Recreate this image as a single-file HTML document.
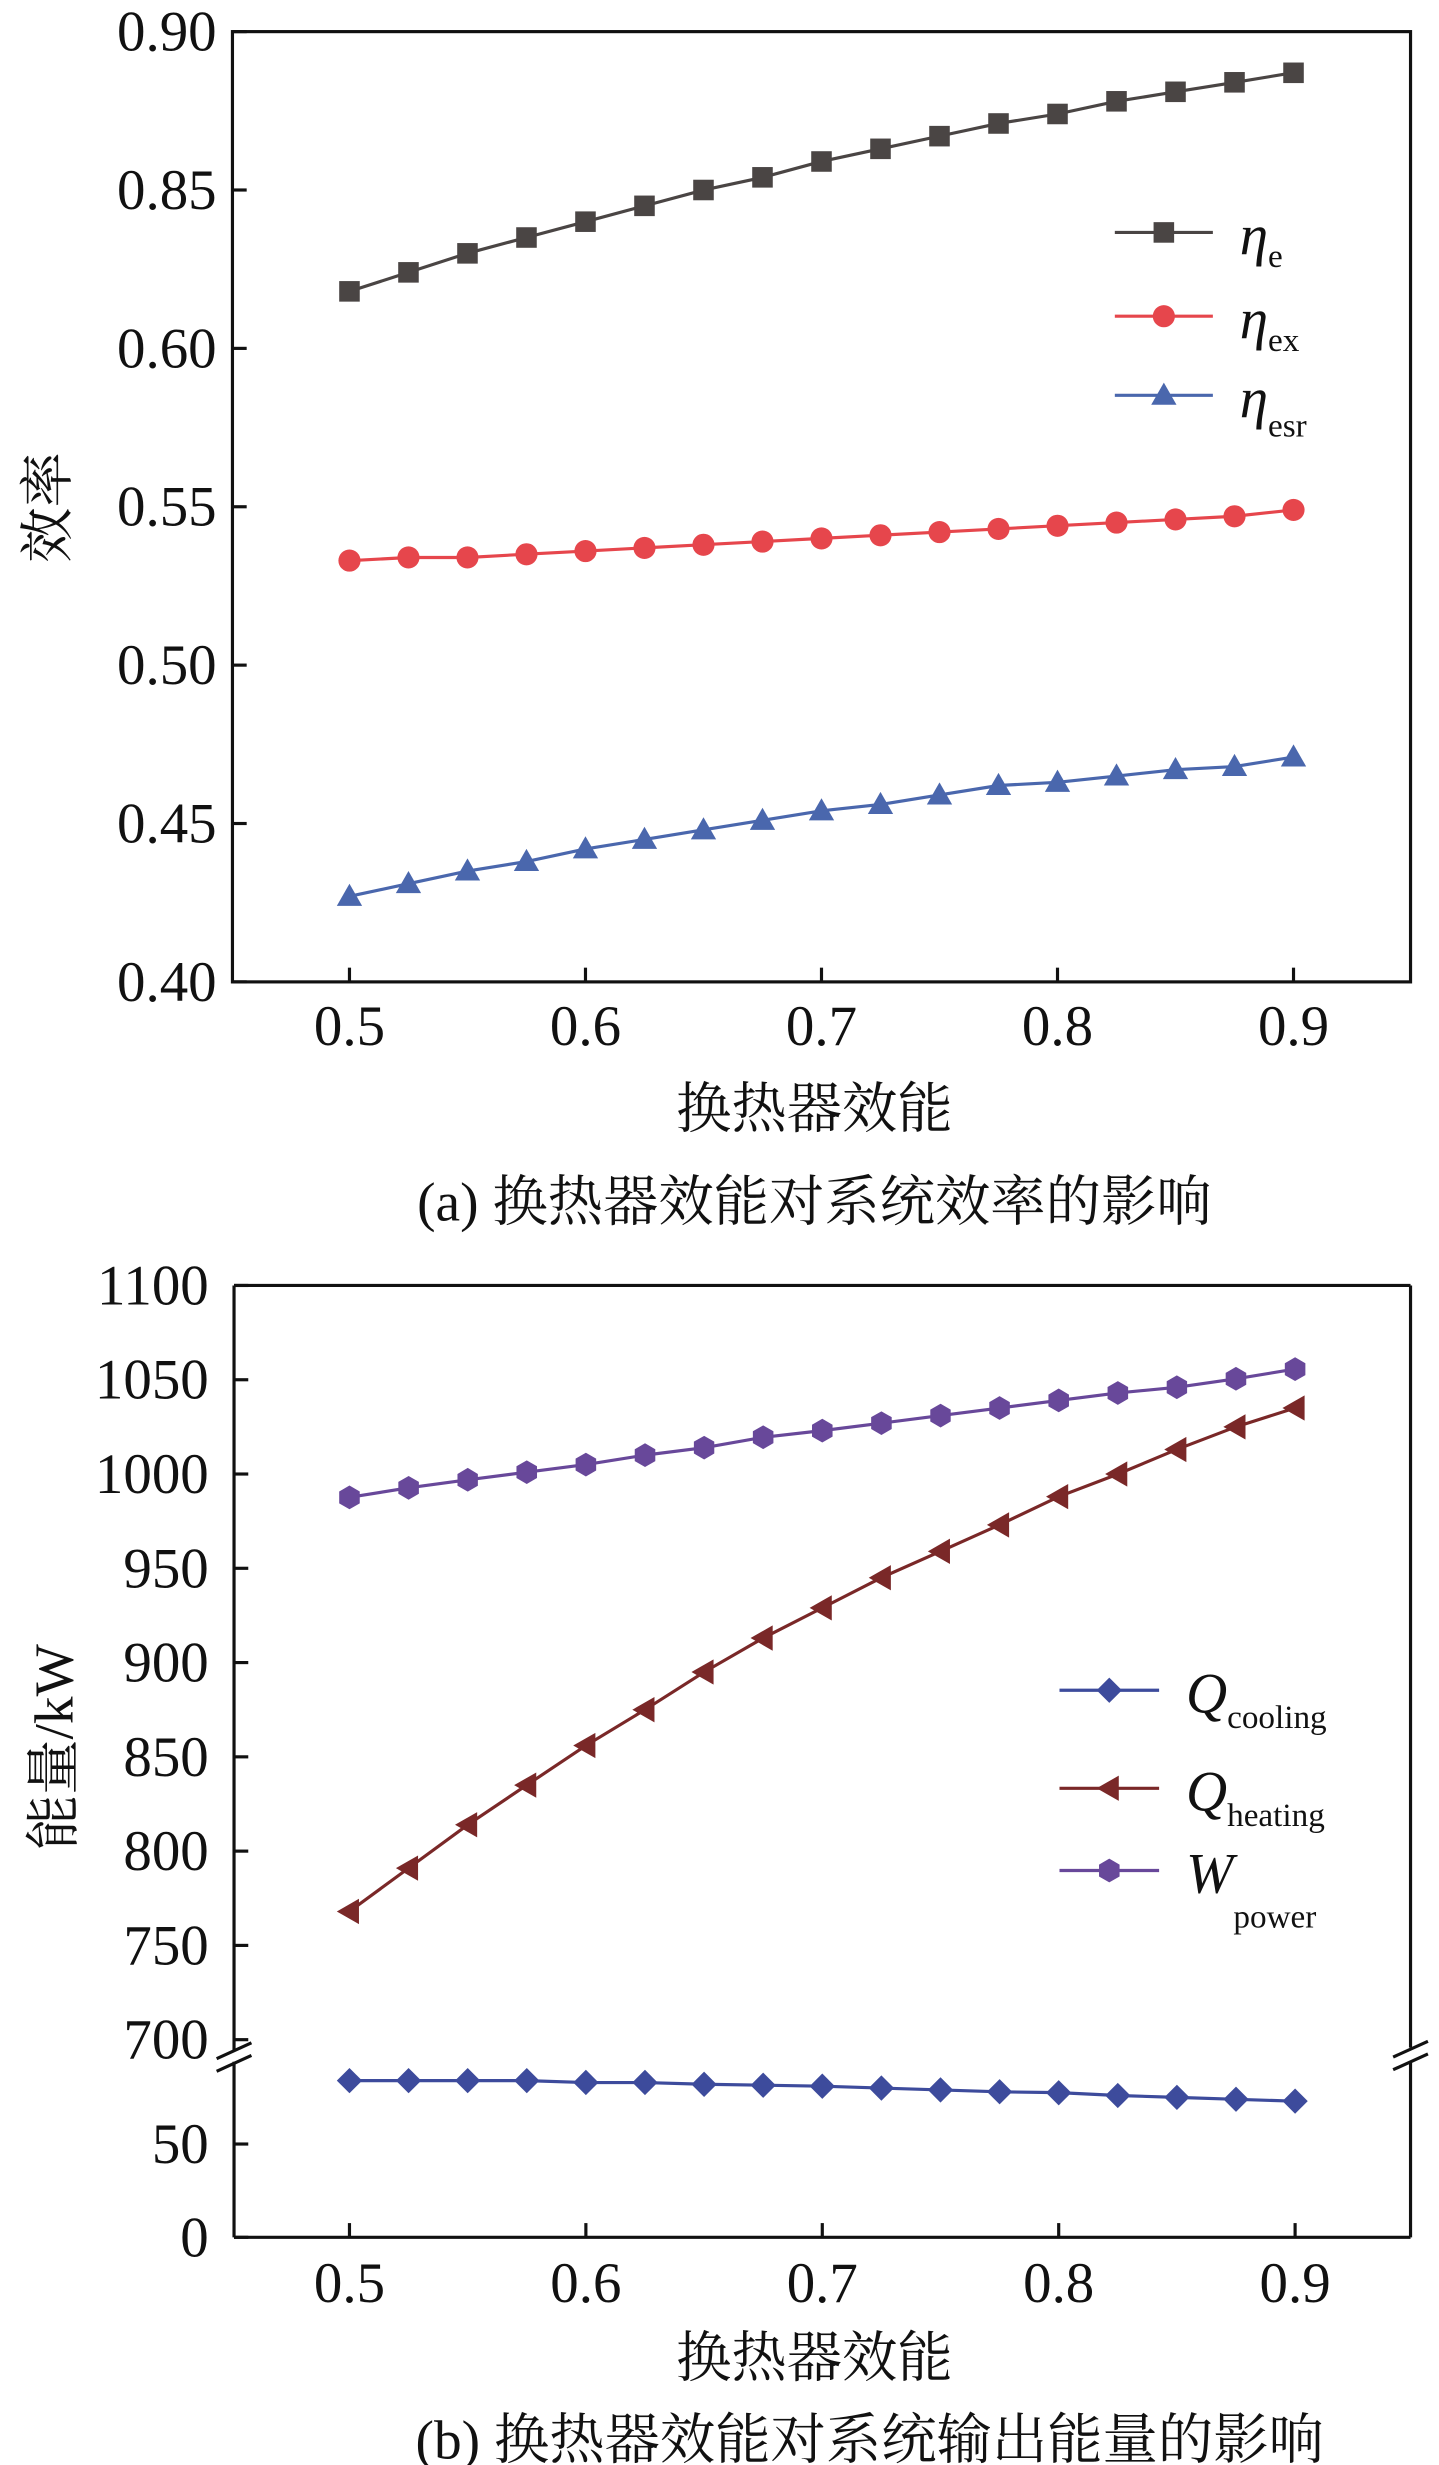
<!DOCTYPE html>
<html><head><meta charset="utf-8"><style>
html,body{margin:0;padding:0;background:#fff;}
svg{display:block;}
text{font-family:"Liberation Serif","Noto Serif CJK SC",serif;fill:#111;}
</style></head><body>
<svg id="fig" width="1439" height="2465" viewBox="0 0 910 1559" preserveAspectRatio="none" xmlns="http://www.w3.org/2000/svg"></svg>
<script>
// ---------- Panel (a) data ----------
const xCats = [0.5,0.525,0.55,0.575,0.6,0.625,0.65,0.675,0.7,0.725,0.75,0.775,0.8,0.825,0.85,0.875,0.9];
const xTicks = [0.5,0.6,0.7,0.8,0.9];
const xTickLabels = ['0.5','0.6','0.7','0.8','0.9'];
const aTicks = [0.40,0.45,0.50,0.55,0.60,0.65,0.70];
const aTickLabels = ['0.40','0.45','0.50','0.55','0.60','0.85','0.90'];
const etaE = [0.618,0.624,0.630,0.635,0.640,0.645,0.650,0.654,0.659,0.663,0.667,0.671,0.674,0.678,0.681,0.684,0.687];
const etaEx = [0.533,0.534,0.534,0.535,0.536,0.537,0.538,0.539,0.540,0.541,0.542,0.543,0.544,0.545,0.546,0.547,0.549];
const etaEsr = [0.427,0.431,0.435,0.438,0.442,0.445,0.448,0.451,0.454,0.456,0.459,0.462,0.463,0.465,0.467,0.468,0.471];
// ---------- Panel (b) data ----------
const bUpperTicks = [700,750,800,850,900,950,1000,1050,1100];
const bLowerTicks = [0,50];
const qCooling = [84,84,84,84,83,83,82,81.5,81,80,79,78,77.5,76,75,74,73];
const qHeating = [768,791,814,835,856,875,895,913,929,945,959,973,988,1000,1013,1025,1035];
const wPower = [987.6,992.7,996.9,1001,1005,1010,1014,1019.5,1023,1027,1031,1035,1039,1043,1046,1050.5,1055.6];

const NS='http://www.w3.org/2000/svg';
const svg=document.getElementById('fig');
function mk(tag,attrs,parent){const e=document.createElementNS(NS,tag);for(const k in attrs)e.setAttribute(k,attrs[k]);(parent||svg).appendChild(e);return e;}

function xScale(L,R){return v=>L+(v-0.5)/(0.4)*(R-L);}

function marker(g,type,x,y,c){
  let e;
  if(type==='square') e=mk('rect',{x:x-6.5,y:y-6.5,width:13,height:13,fill:c},g);
  else if(type==='circle') e=mk('circle',{cx:x,cy:y,r:7,fill:c},g);
  else if(type==='tri') e=mk('polygon',{points:`${x},${y-8} ${x+8},${y+6} ${x-8},${y+6}`,fill:c},g);
  else if(type==='diamond') e=mk('polygon',{points:`${x},${y-8} ${x+8},${y} ${x},${y+8} ${x-8},${y}`,fill:c},g);
  else if(type==='ltri') e=mk('polygon',{points:`${x-8},${y} ${x+6},${y-8} ${x+6},${y+8}`,fill:c},g);
  else if(type==='hex'){let p=[];for(let i=0;i<6;i++){const a=Math.PI/3*i+Math.PI/6;p.push((x+7.5*Math.cos(a)).toFixed(1)+','+(y+7.5*Math.sin(a)).toFixed(1));}e=mk('polygon',{points:p.join(' '),fill:c},g);}
  return e;
}
function series(name,vals,xs,ys,c,type){
  const g=mk('g',{});
  
  
  const pts=vals.map((v,i)=>xs(xCats[i]).toFixed(1)+','+ys(v).toFixed(1)).join(' ');
  mk('polyline',{points:pts,fill:'none',stroke:c,'stroke-width':2},g);
  vals.forEach((v,i)=>{
    const m=marker(g,type,xs(xCats[i]),ys(v),c);
    
    
  });
}
function txt(s,x,y,size,anchor,name,extra){
  const t=mk('text',Object.assign({x:x,y:y,'font-size':size,'text-anchor':anchor||'start'},extra||{}));
  t.textContent=s;
  
  
  return t;
}
function legendItem(g,y,c,type,main,sub,subDy,name){
  const li=mk('g',{},g);
  
  
  mk('line',{x1:LX1,y1:y,x2:LX2,y2:y,stroke:c,'stroke-width':2},li);
  marker(li,type,(LX1+LX2)/2,y,c);
  const t=mk('text',{x:LX2+17,y:y+14,'font-size':36,'font-style':'italic'},li);
  t.textContent=main;
  const s=mk('tspan',{dy:subDy,'font-size':21,'font-style':'normal'},t);
  s.textContent=sub;
}
let LX1,LX2;

// ===== Panel (a) =====
{
  const L=147,R=892,T=20,B=621;
  const xs=xScale(L+74,L+671);
  const ys=v=>B-(v-0.40)/0.30*(B-T);
  const ax=mk('g',{});
  mk('rect',{x:L,y:T,width:R-L,height:B-T,fill:'none',stroke:'#111','stroke-width':2},ax);
  aTicks.forEach((t,i)=>{const y=ys(t);mk('line',{x1:L,y1:y,x2:L+9,y2:y,stroke:'#111','stroke-width':2},ax);
    txt(aTickLabels[i],L-10,y+12,36,'end','y-tick-label-a');});
  xTicks.forEach((t,i)=>{const x=xs(t);mk('line',{x1:x,y1:B,x2:x,y2:B-9,stroke:'#111','stroke-width':2},ax);
    txt(xTickLabels[i],x,B+40,36,'middle','x-tick-label-a');});
  txt('换热器效能',515,713,35,'middle','x-axis-title-a');
  txt('效率',0,0,35,'middle','y-axis-title-a',{transform:'translate(42,321) rotate(-90)'});
  txt('(a) 换热器效能对系统效率的影响',515,772,35,'middle','caption-a');
  series('eta-e-series',etaE,xs,ys,'#4a4544','square');
  series('eta-ex-series',etaEx,xs,ys,'#e6464c','circle');
  series('eta-esr-series',etaEsr,xs,ys,'#4a67ad','tri');
  LX1=705;LX2=767;
  const lg=mk('g',{});
  legendItem(lg,147,'#4a4544','square','η','e',8,'legend-entry-eta-e');
  legendItem(lg,200,'#e6464c','circle','η','ex',8,'legend-entry-eta-ex');
  legendItem(lg,250,'#4a67ad','tri','η','esr',12,'legend-entry-eta-esr');
}

// ===== Panel (b) =====
{
  const L=148,R=892,T=813,B=1415;
  const xs=xScale(L+73,L+671);
  const yUp=v=>1290-(v-700)/400*(1290-813);
  const yLo=v=>1415-v*1.18;
  const ax=mk('g',{});
  mk('line',{x1:L,y1:T,x2:R,y2:T,stroke:'#111','stroke-width':2},ax);
  mk('line',{x1:L,y1:B,x2:R,y2:B,stroke:'#111','stroke-width':2},ax);
  mk('line',{x1:L,y1:T,x2:L,y2:1297,stroke:'#111','stroke-width':2},ax);
  mk('line',{x1:L,y1:1304,x2:L,y2:B,stroke:'#111','stroke-width':2},ax);
  mk('line',{x1:R,y1:T,x2:R,y2:1295,stroke:'#111','stroke-width':2},ax);
  mk('line',{x1:R,y1:1304,x2:R,y2:B,stroke:'#111','stroke-width':2},ax);
  [[L,1297],[L,1305],[R,1296],[R,1304]].forEach(p=>mk('line',{x1:p[0]-11,y1:p[1]+5,x2:p[0]+11,y2:p[1]-5,stroke:'#111','stroke-width':2},ax));
  bUpperTicks.forEach(t=>{const y=yUp(t);mk('line',{x1:L,y1:y,x2:L+9,y2:y,stroke:'#111','stroke-width':2},ax);
    txt(String(t),L-16,y+12,36,'end','y-tick-label-b');});
  bLowerTicks.forEach(t=>{const y=yLo(t);mk('line',{x1:L,y1:y,x2:L+9,y2:y,stroke:'#111','stroke-width':2},ax);
    txt(String(t),L-16,y+12,36,'end','y-tick-label-b');});
  xTicks.forEach((t,i)=>{const x=xs(t);mk('line',{x1:x,y1:B,x2:x,y2:B-9,stroke:'#111','stroke-width':2},ax);
    txt(xTickLabels[i],x,B+41,36,'middle','x-tick-label-b');});
  txt('换热器效能',515,1503,35,'middle','x-axis-title-b');
  txt('能量/kW',0,0,35,'middle','y-axis-title-b',{transform:'translate(46,1105) rotate(-90)'});
  txt('(b) 换热器效能对系统输出能量的影响',550,1555,35,'middle','caption-b');
  series('w-power-series',wPower,xs,yUp,'#68489a','hex');
  series('q-heating-series',qHeating,xs,yUp,'#7a2828','ltri');
  series('q-cooling-series',qCooling,xs,yLo,'#3d4b9c','diamond');
  LX1=670;LX2=733;
  const lg=mk('g',{});
  legendItem(lg,1069,'#3d4b9c','diamond','Q','cooling',10,'legend-entry-q-cooling');
  legendItem(lg,1131,'#7a2828','ltri','Q','heating',10,'legend-entry-q-heating');
  legendItem(lg,1183,'#68489a','hex','W','power',22,'legend-entry-w-power');
}
</script>
</body></html>
